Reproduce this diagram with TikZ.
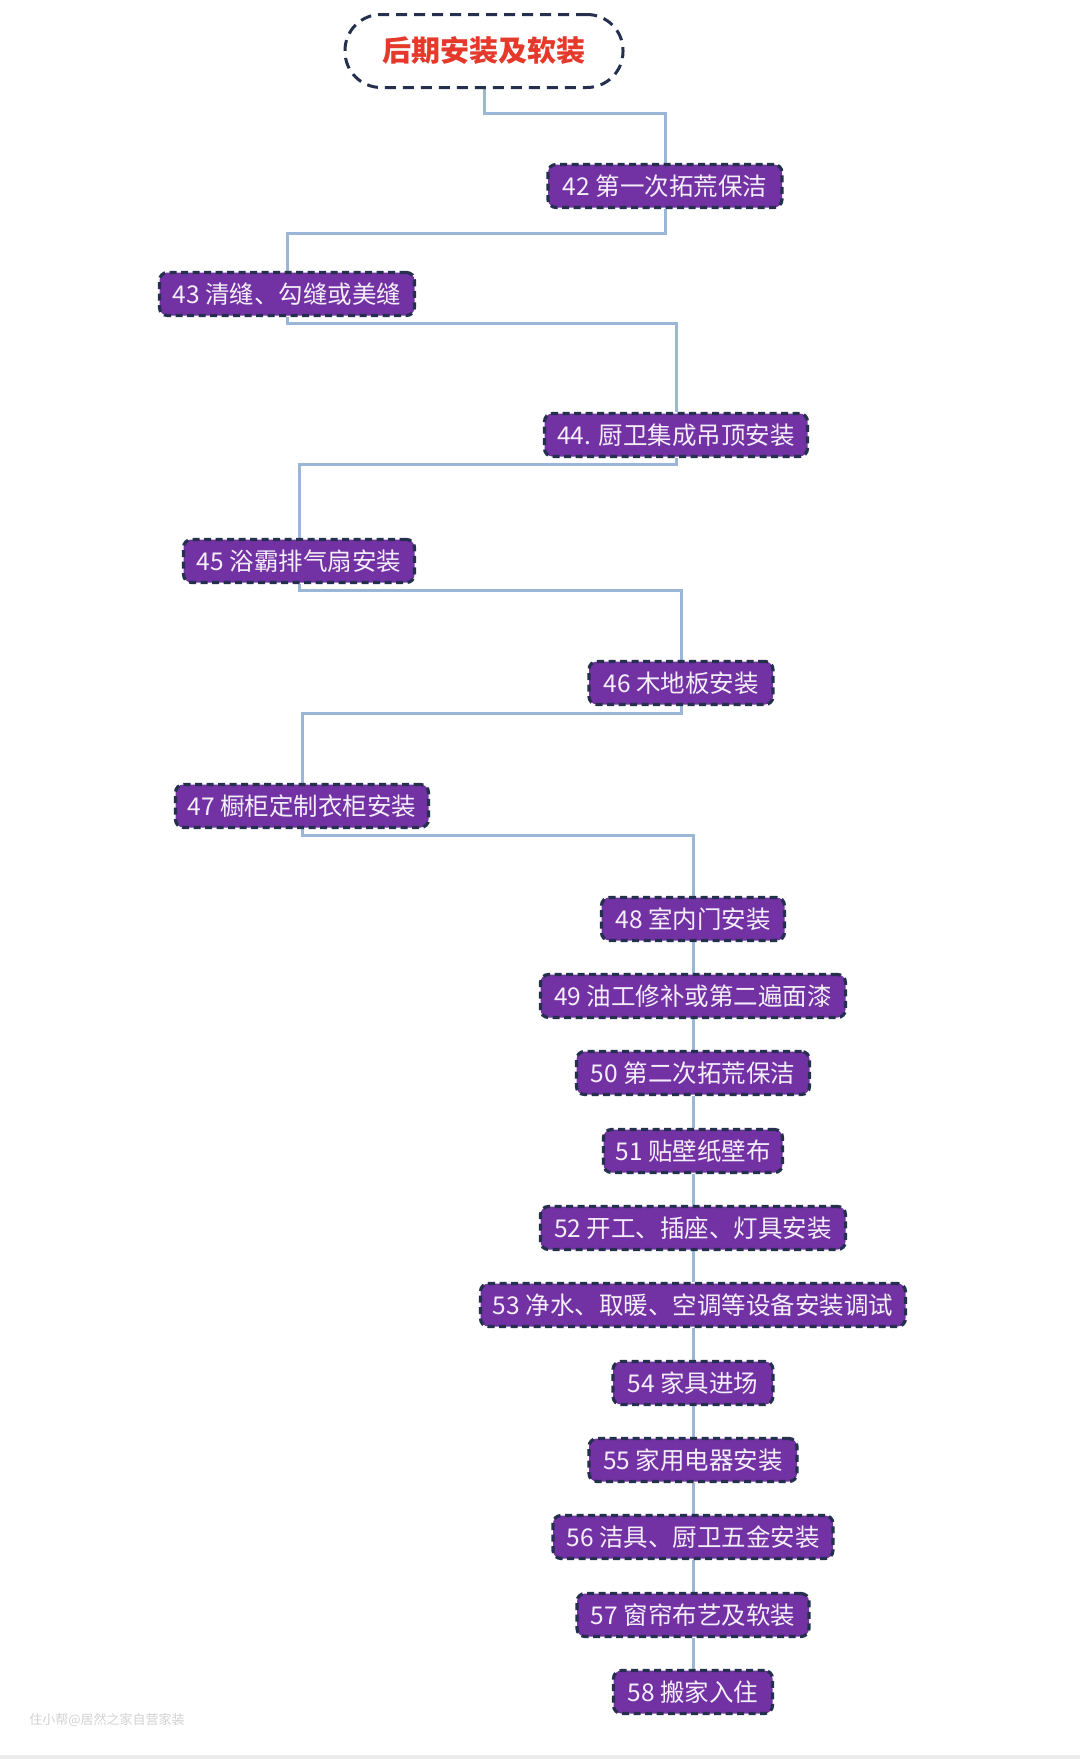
\documentclass[tikz,border=0pt]{standalone}
\usepackage{fontspec}
\newfontfamily\cjk{Noto Sans CJK SC}
\usetikzlibrary{backgrounds}
\definecolor{boxfill}{HTML}{7232A3}
\definecolor{boxline}{HTML}{25304F}
\definecolor{boxtext}{HTML}{F4EEFB}
\definecolor{linkc}{HTML}{9BB7D8}
\definecolor{titlered}{HTML}{E5392B}
\definecolor{wmark}{HTML}{D2D2D2}
\begin{document}
\begin{tikzpicture}[x=1pt,y=-1pt,
  stepbox/.style={draw=boxline, fill=boxfill, line width=3.2pt,
    dash pattern=on 7pt off 4.5pt, rounded corners=8pt,
    minimum height=43pt, inner xsep=0pt, inner ysep=0pt, text=boxtext,
    font=\cjk\fontsize{24.5}{28}\selectfont},
  titlebox/.style={draw=boxline, line width=3pt, dash pattern=on 11pt off 7pt,
    rounded corners=36pt, minimum width=278pt, minimum height=73pt,
    text=titlered, font=\cjk\bfseries\fontsize{29}{34}\selectfont},
  link/.style={draw=linkc, line width=3pt}]
\useasboundingbox (0,0) rectangle (1080,1759);

\node[titlebox] (top) at (484,51) {后期安装及软装};

\node[stepbox, minimum width=234pt] (n42) at (665,186) {42 第一次拓荒保洁};
\node[stepbox, minimum width=255pt] (n43) at (287,294) {43 清缝、勾缝或美缝};
\node[stepbox, minimum width=263pt] (n44) at (676,435) {44. 厨卫集成吊顶安装};
\node[stepbox, minimum width=231pt] (n45) at (299,561) {45 浴霸排气扇安装};
\node[stepbox, minimum width=184pt] (n46) at (681,683) {46 木地板安装};
\node[stepbox, minimum width=253pt] (n47) at (302,806) {47 橱柜定制衣柜安装};
\node[stepbox, minimum width=183pt] (n48) at (693,919) {48 室内门安装};
\node[stepbox, minimum width=305pt] (n49) at (693,996) {49 油工修补或第二遍面漆};
\node[stepbox, minimum width=233pt] (n50) at (693,1073) {50 第二次拓荒保洁};
\node[stepbox, minimum width=179pt] (n51) at (693,1151) {51 贴壁纸壁布};
\node[stepbox, minimum width=305pt] (n52) at (693,1228) {52 开工、插座、灯具安装};
\node[stepbox, minimum width=425pt] (n53) at (693,1305) {53 净水、取暖、空调等设备安装调试};
\node[stepbox, minimum width=160pt] (n54) at (693,1383) {54 家具进场};
\node[stepbox, minimum width=208pt] (n55) at (693,1460) {55 家用电器安装};
\node[stepbox, minimum width=280pt] (n56) at (693,1537) {56 洁具、厨卫五金安装};
\node[stepbox, minimum width=232pt] (n57) at (693,1615) {57 窗帘布艺及软装};
\node[stepbox, minimum width=159pt] (n58) at (693,1692) {58 搬家入住};

\node[text=wmark, font=\cjk\fontsize{13}{15}\selectfont] (wm) at (107,1720) {住小帮@居然之家自营家装};

\begin{scope}[on background layer]
\fill[white] (0,0) rectangle (1080,1759);
\fill[black!8] (0,1755) rectangle (1080,1759);
\draw[link] (top.south) -- ++(0,24) -| (n42.north);
\draw[link] (n42.south) -- ++(0,24) -| (n43.north);
\draw[link] (n43.south) -- ++(0,6) -| (n44.north);
\draw[link] (n44.south) -- ++(0,6) -| (n45.north);
\draw[link] (n45.south) -- ++(0,6) -| (n46.north);
\draw[link] (n46.south) -- ++(0,7) -| (n47.north);
\draw[link] (n47.south) -- ++(0,6) -| (n48.north);
\draw[link] (n48) -- (n49);
\draw[link] (n49) -- (n50);
\draw[link] (n50) -- (n51);
\draw[link] (n51) -- (n52);
\draw[link] (n52) -- (n53);
\draw[link] (n53) -- (n54);
\draw[link] (n54) -- (n55);
\draw[link] (n55) -- (n56);
\draw[link] (n56) -- (n57);
\draw[link] (n57) -- (n58);
\end{scope}
\end{tikzpicture}
\end{document}
